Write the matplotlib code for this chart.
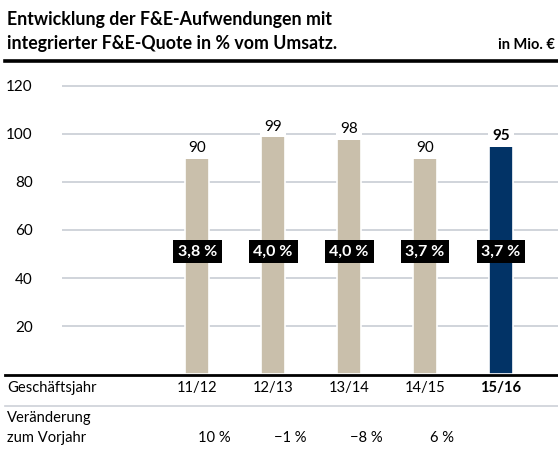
import matplotlib.pyplot as plt
import matplotlib.transforms as mtransforms
from matplotlib.lines import Line2D

plt.rcParams['font.family'] = ['Lato', 'DejaVu Sans']

# data
years = ["11/12", "12/13", "13/14", "14/15", "15/16"]
spend = [90, 99, 98, 90, 95]
quote = ["3,8 %", "4,0 %", "4,0 %", "3,7 %", "3,7 %"]
change = ["10 %", "\u22121 %", "\u22128 %", "6 %"]
yticks = [20, 40, 60, 80, 100, 120]

BEIGE = "#c9bfab"
NAVY = "#023366"
GRID = "#cdd1d8"

W, H = 558, 457
fig = plt.figure(figsize=(W / 100, H / 100), dpi=100)
fig.patch.set_facecolor("white")

def fx(px):
    return px / W

def fy(py):
    return 1 - py / H

ax = fig.add_axes([fx(62), fy(374), fx(558 - 62), (374 - 62) / H])
ax.set_xlim(-1.78, 4.75)
ax.set_ylim(0, 130)
for s in ax.spines.values():
    s.set_visible(False)
ax.set_xticks([])
ax.set_yticks(yticks)
ax.tick_params(axis="y", length=0, pad=21, labelsize=11)
ax.yaxis.grid(True, color=GRID, lw=1.3)
ax.set_axisbelow(True)

n = len(years)
cols = [BEIGE] * (n - 1) + [NAVY]
ax.bar(range(n), spend, width=0.32, color=cols, edgecolor="white", lw=1.2, zorder=2)

for i, v in enumerate(spend):
    last = i == n - 1
    ax.text(i, v + 1.2, str(v), ha="center", va="bottom", fontsize=11,
            fontweight="bold" if last else "normal", zorder=3,
            bbox=dict(boxstyle="square,pad=0.25", fc="white", ec="none"))
    ax.text(i, 51, quote[i], ha="center", va="center", fontsize=11.5,
            fontweight="bold", color="white", zorder=4,
            bbox=dict(boxstyle="square,pad=0.3", fc="black", ec="none"))

# title
fig.text(fx(7), fy(19), "Entwicklung der F&E-Aufwendungen mit", fontsize=12.8,
         fontweight="bold", va="center", ha="left")
fig.text(fx(7), fy(44), "integrierter F&E-Quote in % vom Umsatz.", fontsize=12.8,
         fontweight="bold", va="center", ha="left")
fig.text(fx(555), fy(45), "in Mio. \u20ac", fontsize=10.5, fontweight="bold",
         va="center", ha="right")

# rules
fig.add_artist(Line2D([fx(5), 1], [fy(61), fy(61)], color="black", lw=2.6))
fig.add_artist(Line2D([fx(5), 1], [fy(375), fy(375)], color="black", lw=2.0))
fig.add_artist(Line2D([fx(5), 1], [fy(406), fy(406)], color=GRID, lw=1.2))

# bottom table
tr = mtransforms.blended_transform_factory(ax.transData, fig.transFigure)
fig.text(fx(7), fy(388), "Geschäftsjahr", fontsize=10.6, va="center", ha="left")
for i, y in enumerate(years):
    ax.text(i, fy(388), y, transform=tr, ha="center", va="center", fontsize=10.6,
            fontweight="bold" if i == n - 1 else "normal", clip_on=False)
fig.text(fx(7), fy(418), "Veränderung", fontsize=10.6, va="center", ha="left")
fig.text(fx(7), fy(438), "zum Vorjahr", fontsize=10.6, va="center", ha="left")
for i, c in enumerate(change):
    ax.text(i + 0.22, fy(438), c, transform=tr, ha="center", va="center",
            fontsize=10.6, clip_on=False)

fig.savefig("out.png", dpi=100)
